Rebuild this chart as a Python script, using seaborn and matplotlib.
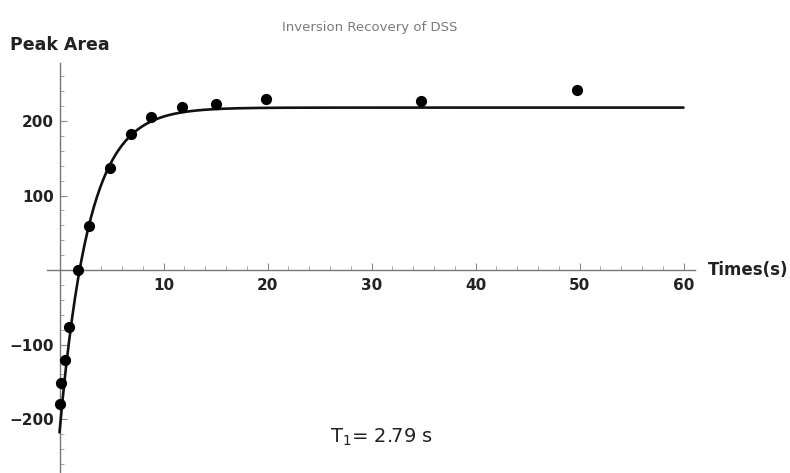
import numpy as np
import pandas as pd
import matplotlib
matplotlib.use("Agg")
import matplotlib.pyplot as plt
import seaborn as sns
from matplotlib.ticker import MultipleLocator, FixedLocator

sns.set_style("white")
plt.rcParams['font.family'] = ['DejaVu Sans']

# data
times = [0.0, 0.15, 0.5, 0.9, 1.8, 2.8, 4.9, 6.9, 8.8, 11.8, 15.0, 19.9, 34.8, 49.8]
areas = [-180, -152, -121, -77, 0, 59, 137, 183, 205, 219, 223, 230, 227, 242]
# fit parameters
M0 = 218.0
T1 = 2.79
x_ticks = [10, 20, 30, 40, 50, 60]
y_ticks = [-200, -100, 100, 200]

fit_t = np.linspace(0, 60, 600)
fit_df = pd.DataFrame({"t": fit_t, "y": M0 * (1 - 2 * np.exp(-fit_t / T1))})
pts = pd.DataFrame({"t": times, "y": areas})

W, H = 790, 473
fig = plt.figure(figsize=(7.9, 4.73), dpi=100)
# pixel mapping: x=0 -> 59.5px, 10.4 px/unit ; y=0 -> 270px, 0.745 px/unit
left_px, right_px, top_px, bot_px = 47, 695, 63, 473
ax = fig.add_axes([left_px / W, 1 - bot_px / H, (right_px - left_px) / W, (bot_px - top_px) / H])
ax.set_xlim((left_px - 59.5) / 10.4, (right_px - 59.5) / 10.4)
ax.set_ylim((270 - bot_px) / 0.745, (270 - top_px) / 0.745)
ax.patch.set_alpha(0)

sns.lineplot(data=fit_df, x="t", y="y", ax=ax, color="#111111", linewidth=1.9, zorder=3)
sns.scatterplot(data=pts, x="t", y="y", ax=ax, color="black", s=65, edgecolor="black", linewidth=0, zorder=4)

for s in ["top", "right"]:
    ax.spines[s].set_visible(False)
ax.spines["left"].set_position(("data", 0))
ax.spines["bottom"].set_position(("data", 0))
for s in ["left", "bottom"]:
    ax.spines[s].set_color("#777777")
    ax.spines[s].set_linewidth(1.0)

ax.xaxis.set_major_locator(FixedLocator(x_ticks))
ax.yaxis.set_major_locator(FixedLocator(y_ticks))
ax.xaxis.set_minor_locator(MultipleLocator(2))
ax.yaxis.set_minor_locator(MultipleLocator(20))
ax.tick_params(which="both", bottom=True, left=True, top=False, right=False)
ax.tick_params(which="major", direction="in", length=5, width=0.8, color="#888888",
               labelsize=11, labelcolor="#222222")
ax.tick_params(which="minor", direction="in", length=3, width=0.6, color="#999999")
ax.tick_params(axis="x", pad=6)
ax.tick_params(axis="y", pad=4)
for lab in ax.get_xticklabels() + ax.get_yticklabels():
    lab.set_fontweight("bold")
ax.set_xlabel("")
ax.set_ylabel("")

fig.text(370 / W, 1 - 28 / H, "Inversion Recovery of DSS", ha="center", va="center",
         fontsize=9.5, color="#7a7a7a")
fig.text(10 / W, 1 - 45 / H, "Peak Area", ha="left", va="center", fontsize=12.5,
         fontweight="bold", color="#222222")
fig.text(708 / W, 1 - 270 / H, "Times(s)", ha="left", va="center", fontsize=12,
         fontweight="bold", color="#222222")
fig.text(330 / W, 1 - 437 / H, r"T$_1$= 2.79 s", ha="left", va="center", fontsize=14,
         color="#222222")

fig.savefig("out.png", dpi=100)
